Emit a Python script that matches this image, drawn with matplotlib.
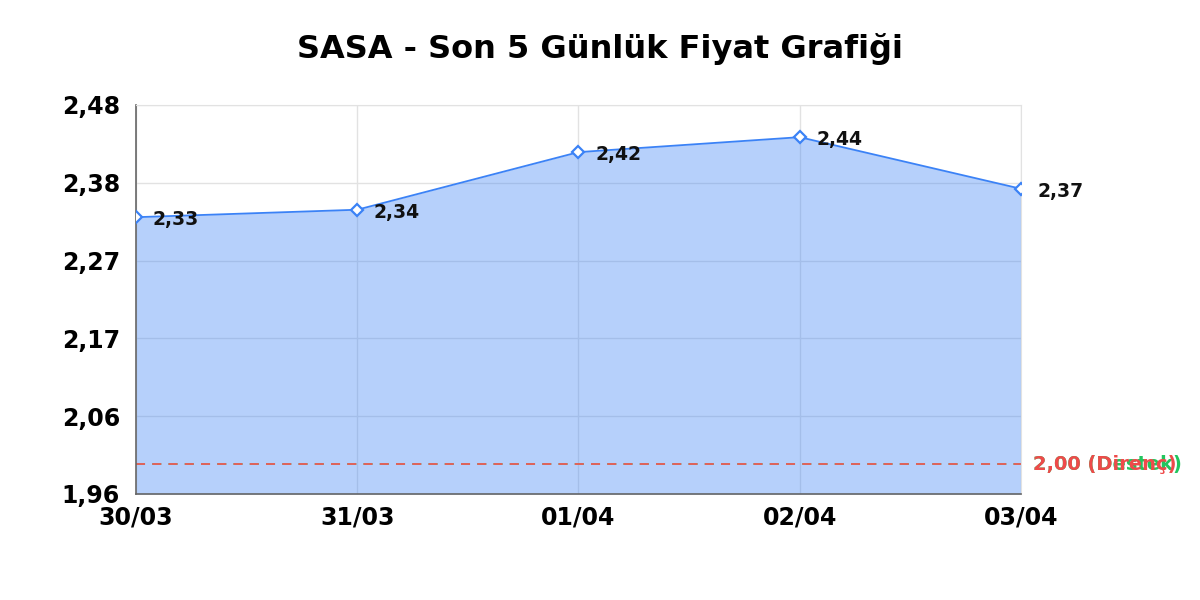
import numpy as np
import matplotlib.pyplot as plt

# Data
dates = ["30/03", "31/03", "01/04", "02/04", "03/04"]
prices = [2.33, 2.34, 2.417, 2.437, 2.368]
support = 2.00
resistance = 2.00
y_ticks = [1.96, 2.064, 2.168, 2.272, 2.376, 2.48]

blue = "#3b82f6"
x = np.arange(len(dates))

fig = plt.figure(figsize=(12, 6), dpi=100)
ax = fig.add_axes([0.1133, 0.1767, 0.7375, 0.6483])

# grid under everything
ax.set_axisbelow(True)
ax.grid(True, color="#e2e2e2", linewidth=1)

ax.fill_between(x, prices, y_ticks[0], color=blue, alpha=0.37, linewidth=0)
ax.plot(x, prices, color=blue, linewidth=1.3, marker="D", markersize=6.5,
        markerfacecolor="white", markeredgecolor=blue, markeredgewidth=1.6, zorder=4)

for xi, p in zip(x, prices):
    ax.annotate(f"{p:.2f}".replace(".", ","), (xi, p), xytext=(12, -2),
                textcoords="offset points", va="center", ha="left",
                fontsize=13.5, fontweight="bold", color="#111111", zorder=5,
                annotation_clip=False)

# support / resistance lines and labels (same level, so they overlap)
ax.axhline(support, color="#22c55e", linestyle=(0, (5, 4)), linewidth=1.3)
ax.axhline(resistance, color="#f05a5a", linestyle=(0, (5, 4)), linewidth=1.3)
ax.annotate(f"{support:.2f}".replace(".", ",") + " (Destek)", (1, support),
            xycoords=("axes fraction", "data"), xytext=(9, 0), textcoords="offset points",
            va="center", ha="left", fontsize=14, fontweight="bold", color="#22c55e")
ax.annotate(f"{resistance:.2f}".replace(".", ",") + " (Direnç)", (1, resistance),
            xycoords=("axes fraction", "data"), xytext=(9, 0), textcoords="offset points",
            va="center", ha="left", fontsize=14, fontweight="bold", color="#ef4a4a")

ax.set_xlim(0, len(dates) - 1)
ax.set_ylim(y_ticks[0], y_ticks[-1])
ax.set_xticks(x)
ax.set_xticklabels(dates)
ax.set_yticks(y_ticks)
ax.set_yticklabels([f"{v:.2f}".replace(".", ",") for v in y_ticks])
ax.tick_params(axis="both", length=0, labelsize=17)
ax.tick_params(axis="y", pad=11.5)
ax.tick_params(axis="x", pad=8)
for lab in ax.get_xticklabels() + ax.get_yticklabels():
    lab.set_fontweight("bold")

for side in ["left", "bottom"]:
    ax.spines[side].set_color("#666666")
    ax.spines[side].set_linewidth(1.2)
for side in ["top", "right"]:
    ax.spines[side].set_color("#e2e2e2")

fig.suptitle("SASA - Son 5 Günlük Fiyat Grafiği", fontsize=23, fontweight="bold", y=0.945)

fig.savefig("out.png", dpi=100)
